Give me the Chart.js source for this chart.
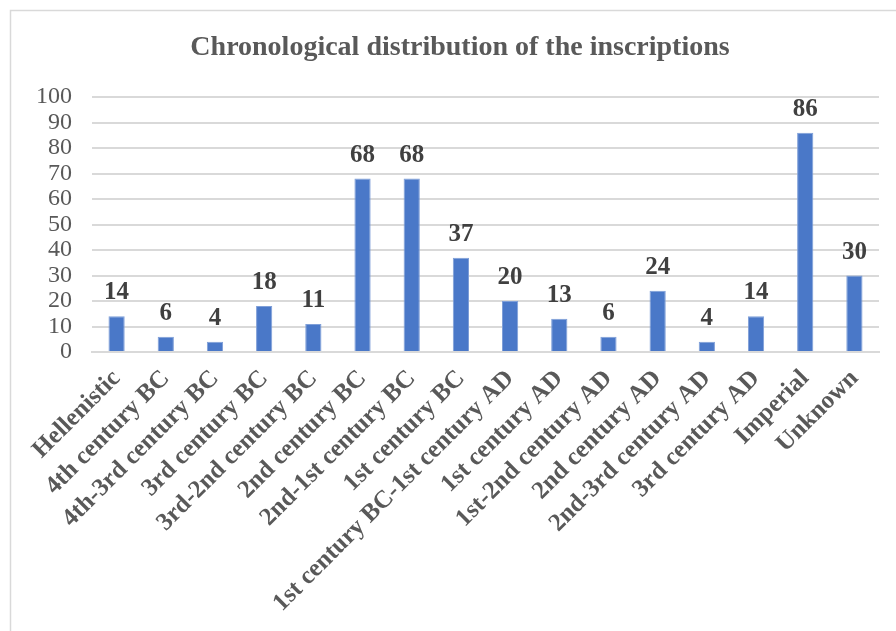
<!DOCTYPE html>
<html>
<head>
<meta charset="utf-8">
<script src="https://cdn.jsdelivr.net/npm/chart.js@4.4.0/dist/chart.umd.min.js"></script>
<style>
  html, body { margin: 0; padding: 0; background: #ffffff; }
  #wrap { width: 896px; height: 631px; position: relative; }
</style>
</head>
<body>
<div id="wrap"><canvas id="c" width="896" height="631"></canvas></div>
<script>
const categories = [
  "Hellenistic", "4th century BC", "4th-3rd century BC", "3rd century BC",
  "3rd-2nd century BC", "2nd century BC", "2nd-1st century BC", "1st century BC",
  "1st century BC-1st century AD", "1st century AD", "1st-2nd century AD",
  "2nd century AD", "2nd-3rd century AD", "3rd century AD", "Imperial", "Unknown"
];
const counts = [14, 6, 4, 18, 11, 68, 68, 37, 20, 13, 6, 24, 4, 14, 86, 30];
const yTicks = [0, 10, 20, 30, 40, 50, 60, 70, 80, 90, 100];
const titleText = "Chronological distribution of the inscriptions";

const SERIF = '"Liberation Serif", "Times New Roman", serif';

const frame = {
  id: 'frame',
  beforeDraw(chart) {
    const ctx = chart.ctx;
    ctx.save();
    ctx.fillStyle = '#ffffff';
    ctx.fillRect(0, 0, chart.width, chart.height);
    ctx.strokeStyle = '#d9d9d9';
    ctx.lineWidth = 1.5;
    ctx.beginPath();
    ctx.moveTo(10.5, chart.height + 2);
    ctx.lineTo(10.5, 10.5);
    ctx.lineTo(chart.width + 2, 10.5);
    ctx.stroke();
    ctx.restore();
  },
  afterDraw(chart) {
    const ctx = chart.ctx;
    ctx.save();
    ctx.font = 'bold 28px ' + SERIF;
    ctx.fillStyle = '#595959';
    ctx.textAlign = 'center';
    ctx.textBaseline = 'middle';
    ctx.fillText(titleText, 460, 48);
    ctx.restore();
  }
};

const valueLabels = {
  id: 'valueLabels',
  afterDatasetsDraw(chart) {
    const ctx = chart.ctx;
    const meta = chart.getDatasetMeta(0);
    ctx.save();
    ctx.font = 'bold 25px ' + SERIF;
    ctx.fillStyle = '#404040';
    ctx.textAlign = 'center';
    ctx.textBaseline = 'alphabetic';
    meta.data.forEach((bar, i) => {
      ctx.fillText(String(chart.data.datasets[0].data[i]), bar.x, bar.y - 17);
    });
    ctx.restore();
  }
};

new Chart(document.getElementById('c'), {
  type: 'bar',
  data: {
    labels: categories,
    datasets: [{
      data: counts,
      backgroundColor: '#4a78c8',
      borderColor: '#7f9fd8',
      borderWidth: 1,
      barPercentage: 0.33,
      categoryPercentage: 1.0
    }]
  },
  options: {
    responsive: false,
    animation: false,
    events: [],
    layout: { padding: { left: 20, right: 17, top: 97, bottom: 0 } },
    plugins: {
      legend: { display: false },
      tooltip: { enabled: false },
      title: { display: false }
    },
    scales: {
      x: {
        grid: { display: false, drawTicks: false },
        border: { display: true, color: '#d9d9d9', width: 2 },
        ticks: {
          autoSkip: false,
          maxRotation: 45,
          minRotation: 45,
          padding: 12,
          color: '#595959',
          font: { family: SERIF, size: 25, weight: 'bold' }
        },
        afterFit(scale) { scale.height = 279; }
      },
      y: {
        min: 0,
        max: 100,
        afterBuildTicks(scale) { scale.ticks = yTicks.map(v => ({ value: v })); },
        grid: { color: '#d9d9d9', lineWidth: 2, drawTicks: false },
        border: { display: false },
        ticks: {
          autoSkip: false,
          padding: 20,
          color: '#595959',
          font: { family: SERIF, size: 24 }
        },
        afterFit(scale) { scale.width = 72; }
      }
    }
  },
  plugins: [frame, valueLabels]
});
</script>
</body>
</html>
